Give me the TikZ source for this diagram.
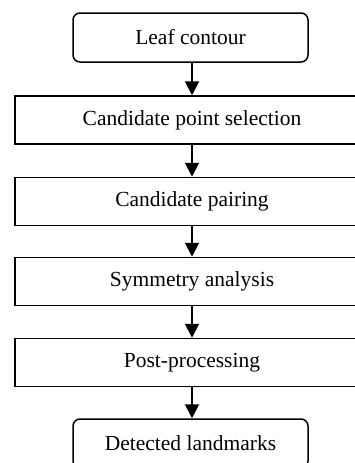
\documentclass[tikz,border=0pt]{standalone}
\usepackage{fontspec}
\setmainfont{Liberation Serif}
\usetikzlibrary{arrows.meta}
\begin{document}
\begin{tikzpicture}[x=1pt,y=-1pt,
  every node/.style={font=\fontsize{21.5}{25}\selectfont, inner sep=0pt},
  rbox/.style={draw, line width=1.5pt, rounded corners=7pt, minimum width=235pt, minimum height=49pt},
  sbox/.style={draw, line width=1.5pt, minimum width=354pt, minimum height=48pt},
  flow/.style={line width=2pt, -{Triangle[length=14pt,width=14pt]}}]
\useasboundingbox (0,0) rectangle (355,463);
\clip (0,0) rectangle (355,463);
\node[rbox] (n0) at (190.5,37.5) {Leaf contour};
\node[sbox] (n1) at (192,120) {Candidate point selection};
\node[sbox] (n2) at (192,201.5) {Candidate pairing};
\node[sbox] (n3) at (192,281.5) {Symmetry analysis};
\node[sbox] (n4) at (192,362.5) {Post-processing};
\node[rbox] (n5) at (190.5,443.5) {Detected landmarks};
\draw[flow] (n0.south -| n1.center) -- (n1.north);
\draw[flow] (n1) -- (n2);
\draw[flow] (n2) -- (n3);
\draw[flow] (n3) -- (n4);
\draw[flow] (n4.south) -- (n4.south |- n5.north);
\end{tikzpicture}
\end{document}
